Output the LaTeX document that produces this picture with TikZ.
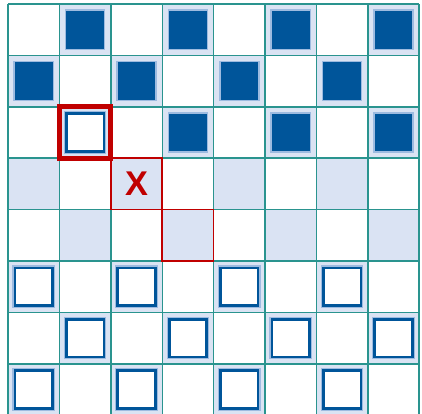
\documentclass[tikz,border=0pt]{standalone}
\usepackage{fontspec}
\setsansfont{Liberation Sans}
\usepackage{xcolor}
\definecolor{boardTeal}{HTML}{2A948F}
\definecolor{boardLight}{HTML}{DAE3F3}
\definecolor{pieceBlue}{HTML}{00559A}
\definecolor{pieceHalo}{HTML}{9DBBE0}
\definecolor{markRed}{HTML}{C00000}

\begin{document}
\begin{tikzpicture}[
  blackpc/.style={draw=pieceHalo,line width=0.8pt,fill=pieceBlue,minimum size=7.6mm,inner sep=0pt},
  whitepc/.style={draw=pieceBlue,line width=1.5pt,fill=white,minimum size=7.3mm,inner sep=0pt,
    preaction={draw=pieceHalo,line width=2.8pt}},
  target/.style={draw=markRed,line width=0.9pt},
  picked/.style={draw=markRed,line width=2.6pt}]
  \useasboundingbox (-0.156,0.043) rectangle (8.054,8.078);

  % dark squares
  \foreach \r in {0,...,7}{
    \foreach \c in {0,2,4,6}{
      \pgfmathtruncatemacro\cc{\c+mod(\r+1,2)}
      \fill[boardLight] (\cc,7-\r) rectangle ++(1,1);
    }
  }
  \draw[boardTeal,line width=0.8pt] (0,0) grid (8,8);

  % pieces on top
  \foreach \r in {0,1,2}{
    \foreach \c in {0,2,4,6}{
      \pgfmathtruncatemacro\cc{\c+mod(\r+1,2)}
      \ifnum\r\cc=21\else
        \node[blackpc] (b-\r-\cc) at (\cc+0.5,7.5-\r) {};
      \fi
    }
  }
  % pieces at the bottom
  \foreach \r in {5,6,7}{
    \foreach \c in {0,2,4,6}{
      \pgfmathtruncatemacro\cc{\c+mod(\r+1,2)}
      \node[whitepc] (w-\r-\cc) at (\cc+0.5,7.5-\r) {};
    }
  }
  \node[whitepc] (w-2-1) at (1.5,5.5) {};

  % move marks
  \draw[target] (2,4) rectangle (3,5);
  \draw[target] (3,3) rectangle (4,4);
  \draw[picked] (1,5) rectangle (2,6);
  \node[text=markRed,font=\sffamily\bfseries\fontsize{19}{19}\selectfont] (jump) at (2.5,4.5) {X};
\end{tikzpicture}
\end{document}
